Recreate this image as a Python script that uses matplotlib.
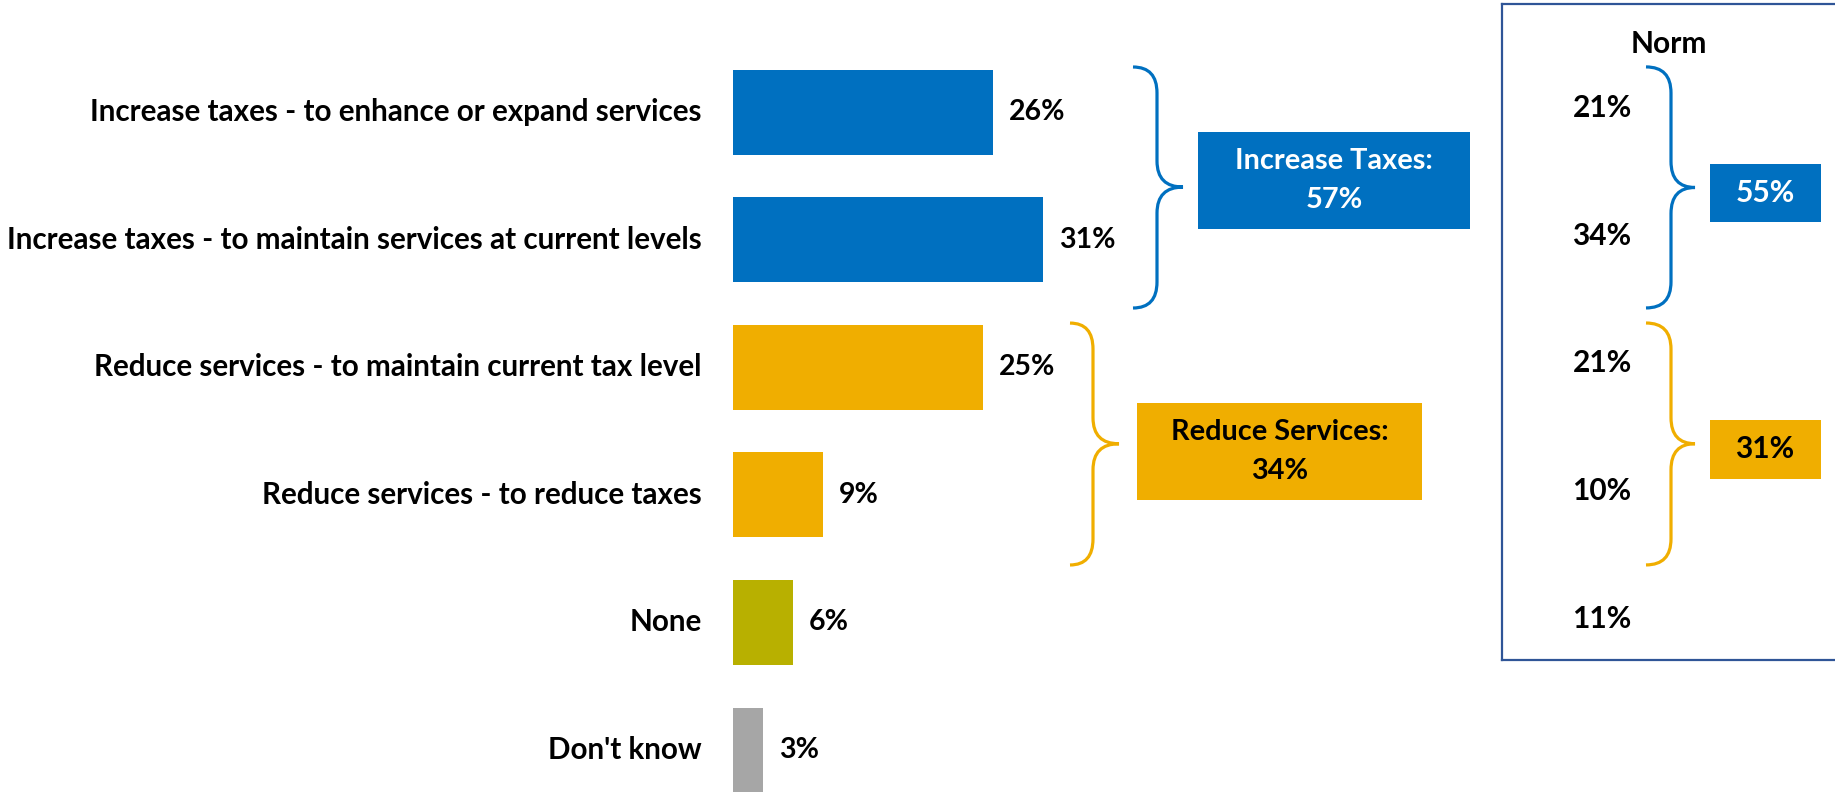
import matplotlib
matplotlib.use('Agg')
import matplotlib.pyplot as plt
from matplotlib.path import Path
from matplotlib.patches import PathPatch, Rectangle

# survey answers
categories = ["Increase taxes - to enhance or expand services",
              "Increase taxes - to maintain services at current levels",
              "Reduce services - to maintain current tax level",
              "Reduce services - to reduce taxes",
              "None",
              "Don't know"]
values = [26, 31, 25, 9, 6, 3]
bar_colors = ['#0070C0', '#0070C0', '#F0AE00', '#F0AE00', '#B8B000', '#A6A6A6']

group_names = ["Increase Taxes:", "Reduce Services:"]
group_totals = [57, 34]

norm_values = [21, 34, 21, 10, 11]
norm_totals = [55, 31]

BLUE = '#0070C0'
GOLD = '#F0AE00'
FONT = 'Lato'


def brace(ax, x0, xs, xt, y0, y1, ym, r, color):
	verts = [(x0, y0), (xs, y0), (xs, y0 + r),
			 (xs, ym - r), (xs, ym), (xt, ym),
			 (xs, ym), (xs, ym + r),
			 (xs, y1 - r), (xs, y1), (x0, y1)]
	codes = [Path.MOVETO, Path.CURVE3, Path.CURVE3,
			 Path.LINETO, Path.CURVE3, Path.CURVE3,
			 Path.CURVE3, Path.CURVE3,
			 Path.LINETO, Path.CURVE3, Path.CURVE3]
	ax.add_patch(PathPatch(Path(verts, codes), fill=False, edgecolor=color,
						   lw=2.3, capstyle='butt'))


fig = plt.figure(figsize=(18.35, 7.93), dpi=100)

# main bars
ax = fig.add_axes([0, 0, 1, 1])
ax.set_xlim(-73.3, 110.2)
ax.set_ylim(5.337, -0.878)
ax.axis('off')

ypos = list(range(len(categories)))
ax.barh(ypos, values, height=0.666, color=bar_colors)

for i, (c, v) in enumerate(zip(categories, values)):
	ax.text(-3.1, i, c, ha='right', va='center', fontsize=21.3,
			fontweight='bold', family=FONT)
	ax.text(v + 1.6, i, f'{v}%', ha='left', va='center', fontsize=20.5,
			fontweight='bold', family=FONT)

# group braces + boxes
brace(ax, 40.0, 42.4, 45.0, -0.353, 1.536, 0.588, 0.204, BLUE)
brace(ax, 33.7, 36.0, 38.6, 1.654, 3.55, 2.60, 0.204, GOLD)

ax.add_patch(Rectangle((46.5, 0.157), 27.2, 0.76, color=BLUE, lw=0))
ax.text(60.1, 0.387, group_names[0], ha='center', va='center', fontsize=20.8,
		fontweight='bold', family=FONT, color='white')
ax.text(60.1, 0.687, f'{group_totals[0]}%', ha='center', va='center', fontsize=20.8,
		fontweight='bold', family=FONT, color='white')

ax.add_patch(Rectangle((40.4, 2.28), 28.5, 0.76, color=GOLD, lw=0))
ax.text(54.65, 2.51, group_names[1], ha='center', va='center', fontsize=20.8,
		fontweight='bold', family=FONT, color='black')
ax.text(54.65, 2.81, f'{group_totals[1]}%', ha='center', va='center', fontsize=20.8,
		fontweight='bold', family=FONT, color='black')

# norm panel, same rows as the bars
nx = fig.add_axes([1502 / 1835, (793 - 660) / 793, 400 / 1835, (660 - 4) / 793])
nx.set_xlim(0, 400)
nx.set_ylim(4.295, -0.846)
nx.set_xticks([])
nx.set_yticks([])
for sp in nx.spines.values():
	sp.set_color('#2F5597')
	sp.set_linewidth(1.6)

nx.text(167, -0.529, 'Norm', ha='center', va='center', fontsize=21.5,
		fontweight='bold', family=FONT)
for i, v in enumerate(norm_values):
	nx.text(100, i - 0.03, f'{v}%', ha='center', va='center', fontsize=21.5,
			fontweight='bold', family=FONT)

brace(nx, 144, 169, 193, -0.353, 1.536, 0.592, 0.204, BLUE)
brace(nx, 144, 169, 193, 1.654, 3.55, 2.60, 0.204, GOLD)

nx.add_patch(Rectangle((208, 0.4075), 111, 0.457, color=BLUE, lw=0))
nx.text(263, 0.636, f'{norm_totals[0]}%', ha='center', va='center', fontsize=21.5,
		fontweight='bold', family=FONT, color='white')
nx.add_patch(Rectangle((208, 2.414), 111, 0.46, color=GOLD, lw=0))
nx.text(263, 2.644, f'{norm_totals[1]}%', ha='center', va='center', fontsize=21.5,
		fontweight='bold', family=FONT, color='black')

fig.savefig('out.png', dpi=100)
plt.close(fig)
